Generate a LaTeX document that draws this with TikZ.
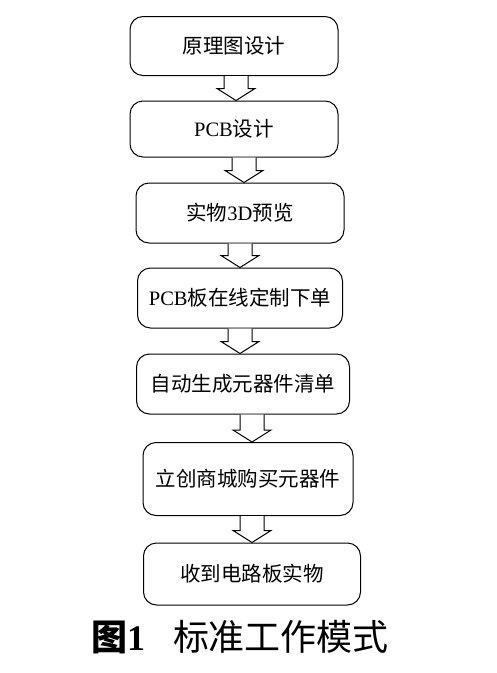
\documentclass[tikz,border=0pt]{standalone}
\usepackage{fontspec}
\setmainfont{Liberation Serif}
\newfontfamily\cjk{Noto Sans CJK SC}
\usetikzlibrary{calc}

% block arrow from the bottom of one box to the top of the next
\newcommand{\flowarrow}[3]{%
  \coordinate (s) at ($(#1.south)+(#3,0)$);
  \coordinate (e) at (s |- #2.north);
  \draw[blockarrow] ($(s)+(-12,0)$) -- ($(e)+(-12,-12)$) -- ($(e)+(-19,-12)$)
    -- (e) -- ($(e)+(19,-12)$) -- ($(e)+(12,-12)$) -- ($(s)+(12,0)$);}

\begin{document}
\begin{tikzpicture}[
  x=1pt, y=-1pt,
  stepbox/.style={draw, line width=1pt, rounded corners=13pt, inner sep=0pt,
    font=\fontsize{20.5}{22}\selectfont},
  blockarrow/.style={draw, line width=1pt, fill=white, line join=miter}
]
\useasboundingbox (0,0) rectangle (497,673);

\node[stepbox, minimum width=208pt, minimum height=59pt] (design) at (234,46) {\cjk 原理图设计};
\node[stepbox, minimum width=208pt, minimum height=56pt] (pcb) at (234,129) {PCB\cjk 设计};
\node[stepbox, minimum width=208pt, minimum height=60pt] (preview) at (240,213) {\cjk 实物\rmfamily 3D\cjk 预览};
\node[stepbox, minimum width=205pt, minimum height=60pt] (order) at (240,298) {PCB\cjk 板在线定制下单};
\node[stepbox, minimum width=213pt, minimum height=60pt] (bom) at (243,384) {\cjk 自动生成元器件清单};
\node[stepbox, minimum width=210pt, minimum height=73pt] (buy) at (248,479) {\cjk 立创商城购买元器件};
\node[stepbox, minimum width=217pt, minimum height=62pt] (board) at (252,574) {\cjk 收到电路板实物};

\flowarrow{design}{pcb}{2}
\flowarrow{pcb}{preview}{10}
\flowarrow{preview}{order}{0}
\flowarrow{order}{bom}{0}
\flowarrow{bom}{buy}{9}
\flowarrow{buy}{board}{4}

\node[font=\fontsize{36}{38}\selectfont] (caption) at (240,637)
  {{\cjk\bfseries 图}\textbf{1}\hspace{28pt}{\cjk 标准工作模式}};
\end{tikzpicture}
\end{document}
